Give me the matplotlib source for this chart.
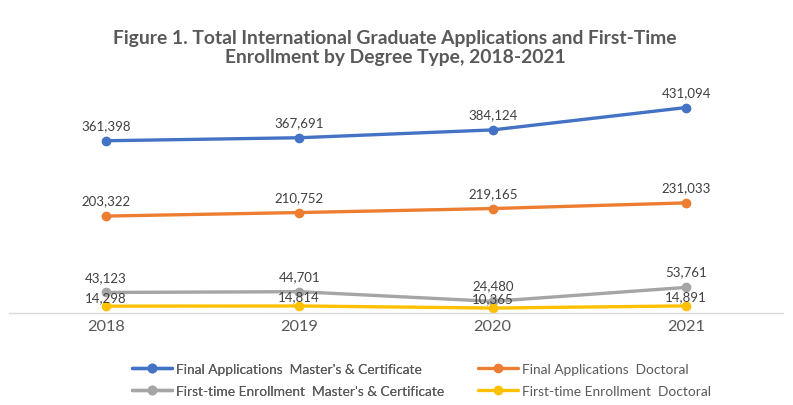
import matplotlib.pyplot as plt
import numpy as np

plt.rcParams['font.family'] = ['Lato', 'DejaVu Sans']

years = ['2018', '2019', '2020', '2021']
apps_masters = [361398, 367691, 384124, 431094]
apps_doctoral = [203322, 210752, 219165, 231033]
enroll_masters = [43123, 44701, 24480, 53761]
enroll_doctoral = [14298, 14814, 10365, 14891]

# label, values, colour, label offset (pt)
series = [
    ("Final Applications  Master's & Certificate", apps_masters, '#4472C4', 7),
    ("Final Applications  Doctoral", apps_doctoral, '#ED7D31', 7),
    ("First-time Enrollment  Master's & Certificate", enroll_masters, '#A5A5A5', 7),
    ("First-time Enrollment  Doctoral", enroll_doctoral, '#FFC000', 2.5),
]

fig = plt.figure(figsize=(7.93, 4.06), dpi=100)
ax = fig.add_axes([0.0113, 0.2266, 0.976, 0.587])

x = np.arange(len(years))
lines = []
for label, vals, color, off in series:
    ln, = ax.plot(x, vals, color=color, linewidth=2.4, marker='o', markersize=6,
                  label=label, solid_capstyle='round')
    lines.append(ln)
    for xi, v in zip(x, vals):
        ax.annotate(f'{v:,}', (xi, v), xytext=(0, off), textcoords='offset points',
                    ha='center', va='bottom', fontsize=9.5, color='#404040')

ax.set_xlim(-0.5, 3.5)
ax.set_ylim(0, 500000)
ax.set_xticks(x)
ax.set_xticklabels(years, fontsize=11.8, color='#595959')
ax.tick_params(axis='x', length=0, pad=4)
ax.set_yticks([])
for s in ['top', 'left', 'right']:
    ax.spines[s].set_visible(False)
ax.spines['bottom'].set_color('#D9D9D9')
ax.spines['bottom'].set_linewidth(1.0)

fig.text(0.498, 0.882, 'Figure 1. Total International Graduate Applications and First-Time\n'
         'Enrollment by Degree Type, 2018-2021', ha='center', va='center',
         fontsize=13.9, fontweight='bold', color='#595959', linespacing=1.2)

# two legend columns, placed like the Excel grid
leg_kw = dict(loc='center left', frameon=False, fontsize=9.9, labelcolor='#595959',
              handlelength=2.9, handletextpad=0.3, labelspacing=0.75,
              borderaxespad=0, borderpad=0)
leg1 = fig.legend([lines[0], lines[2]], [series[0][0], series[2][0]],
                  bbox_to_anchor=(0.1665, 0.062), **leg_kw)
fig.legend([lines[1], lines[3]], [series[1][0], series[3][0]],
           bbox_to_anchor=(0.603, 0.062), **leg_kw)
fig.add_artist(leg1)

plt.savefig('out.png', dpi=100)
